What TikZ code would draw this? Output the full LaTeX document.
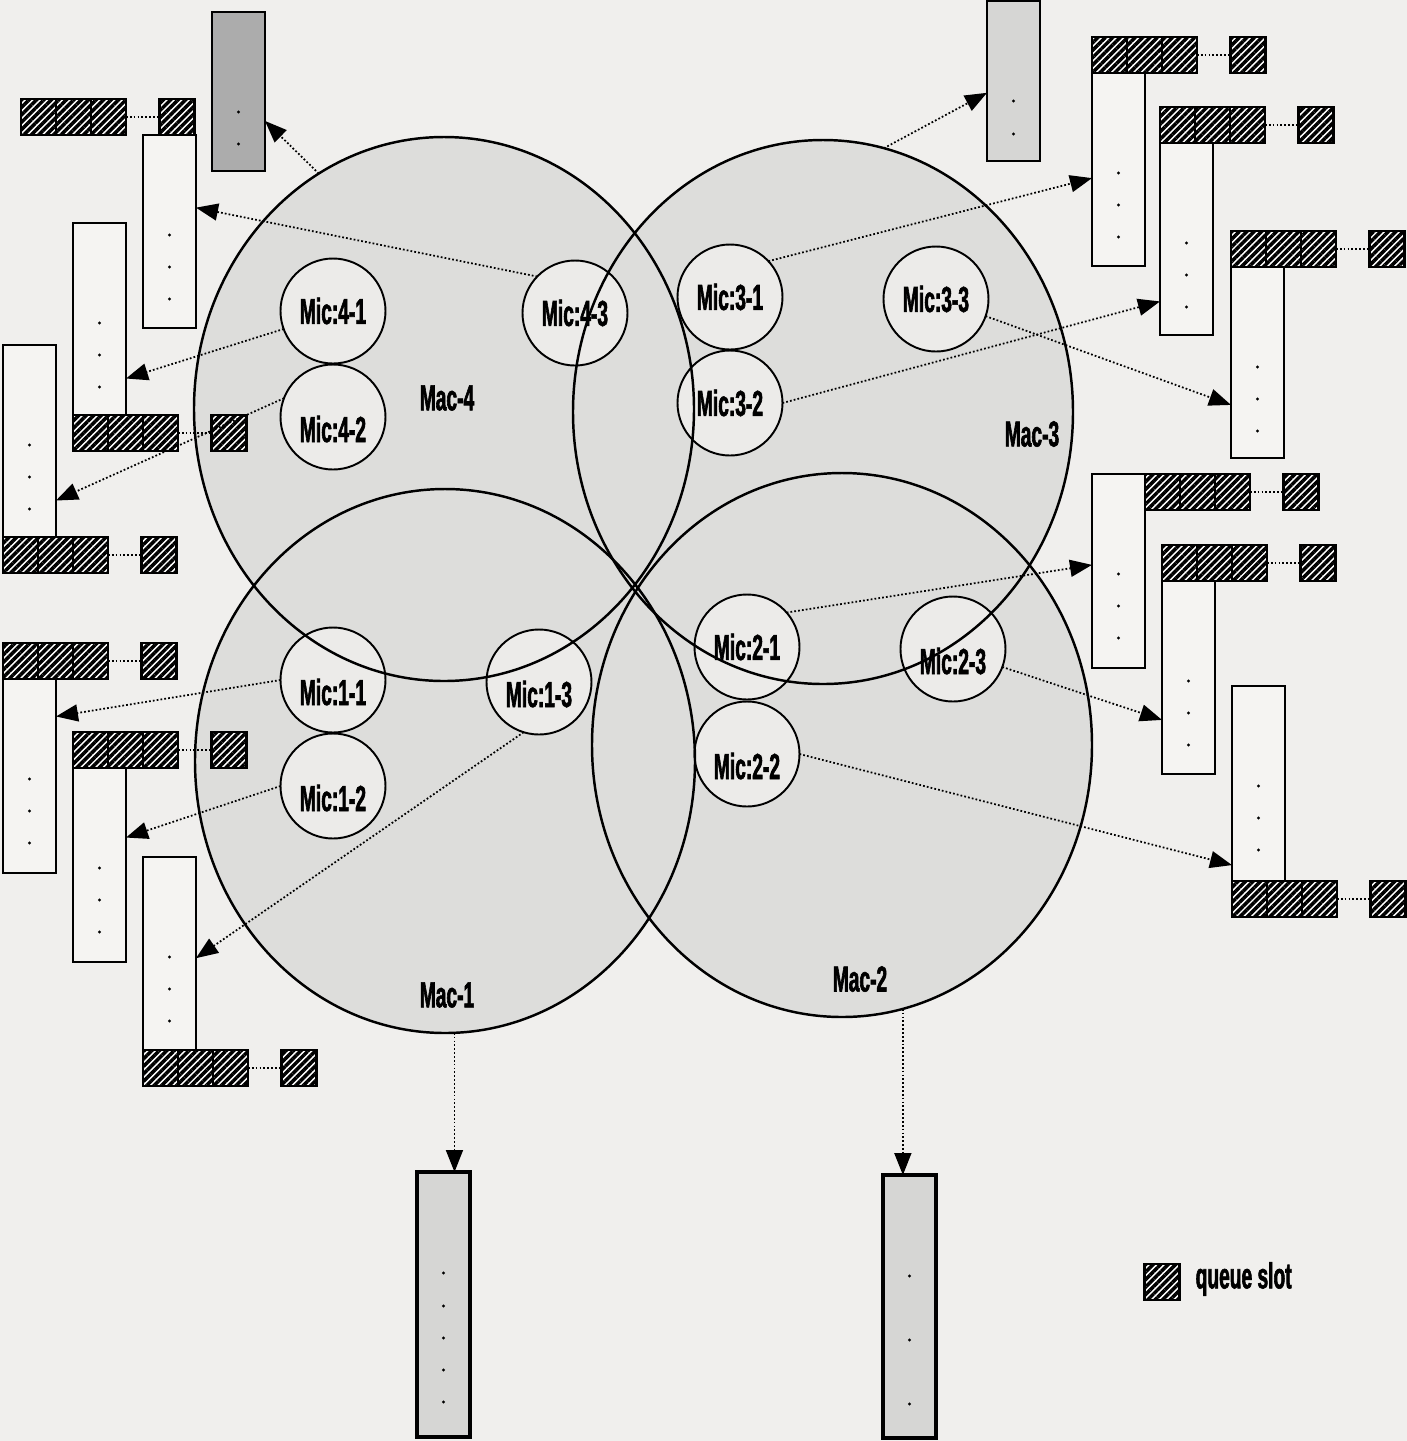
\documentclass[tikz,border=0pt]{standalone}
\usepackage{fontspec}
\newfontfamily\labfont[FakeStretch=0.53,FakeBold=1.6]{Liberation Sans}
\usetikzlibrary{shapes.geometric,arrows.meta,patterns.meta}
\definecolor{paper}{RGB}{240,239,237}
\definecolor{macgray}{RGB}{221,221,219}
\definecolor{micfill}{RGB}{236,235,233}
\definecolor{boxwhite}{RGB}{245,244,242}
\definecolor{lightbox}{RGB}{214,214,212}
\definecolor{darkbox}{RGB}{172,172,172}
\tikzset{
  labtxt/.style={font=\labfont\bfseries\fontsize{10.3pt}{12pt}\selectfont},
  mac/.style={ellipse,draw,line width=0.7pt,minimum width=50mm,minimum height=54.4mm,inner sep=0pt,outer sep=0pt},
  maclab/.style={labtxt,inner sep=0pt},
  mic/.style={circle,draw,line width=0.55pt,fill=micfill,minimum size=10.5mm,inner sep=0pt,outer sep=0pt,labtxt},
  low/.style={text height=5mm,text depth=0pt},
  wbox/.style={draw,line width=0.55pt,fill=boxwhite,minimum width=5.3mm,inner sep=0pt,outer sep=0pt},
  gbox/.style={wbox,fill=lightbox},
  dbox/.style={wbox,fill=darkbox},
  tbox/.style={wbox,fill=lightbox,line width=1.2pt},
  slot/.style={draw,line width=0.6pt,preaction={fill=white},pattern={Lines[angle=45,distance=1.5pt,line width=1pt]},pattern color=black,minimum width=3.5mm,minimum height=3.6mm,inner sep=0pt,outer sep=0pt},
  conn/.style={line width=0.5pt,dash pattern=on 0.5pt off 0.6pt},
  qarrow/.style={conn,-{Triangle[length=2.2mm,width=1.7mm]}}
}
\newcommand{\micnode}[5][]{\node[mic,#1] (#4) at (#2,#3) {#5};}
\newcommand{\qbox}[5]{\node[#4,minimum height=#3mm,anchor=north west] (#5) at (#1,#2) {};}
\newcommand{\qdots}[2]{\foreach \d in {#2} \fill ([yshift=-\d mm]#1.north) circle (1.6);}
\newcommand{\qbar}[3]{%
  \node[slot,anchor=north west] (#3a) at (#1,#2) {};
  \node[slot,anchor=west] (#3b) at (#3a.east) {};
  \node[slot,anchor=west] (#3c) at (#3b.east) {};
  \node[slot,anchor=west] (#3d) at ([xshift=3.35mm]#3c.east) {};
  \draw[conn] (#3c) -- (#3d);}
\newcommand{\qedge}[2]{\draw[qarrow] (#1) -- (#2);}

\begin{document}
\begin{tikzpicture}[x=0.1mm,y=-0.1mm]
	\fill[paper] (0,0) rectangle (1407,1441);
	\useasboundingbox (0,0) rectangle (1407,1441);
	\foreach \cx/\cy in {444/409,823/412,445/761,842/745}
		\fill[macgray] (\cx,\cy) ellipse [x radius=250,y radius=272];
	% micro cells
	\micnode{333}{311}{mic41}{Mic:4-1} \micnode[low]{333}{417}{mic42}{Mic:4-2} \micnode{575}{313}{mic43}{Mic:4-3}
	\micnode{730}{297}{mic31}{Mic:3-1} \micnode{730}{403}{mic32}{Mic:3-2} \micnode{936}{299}{mic33}{Mic:3-3}
	\micnode{747}{647}{mic21}{Mic:2-1} \micnode[low]{747}{754}{mic22}{Mic:2-2} \micnode[low]{953}{649}{mic23}{Mic:2-3}
	\micnode[low]{333}{680}{mic11}{Mic:1-1} \micnode[low]{333}{786}{mic12}{Mic:1-2} \micnode[low]{539}{682}{mic13}{Mic:1-3}
	% macro cells
	\node[mac] (mac4) at (444,409) {}; \node[mac] (mac3) at (823,412) {};
	\node[mac] (mac1) at (445,761) {}; \node[mac] (mac2) at (842,745) {};
	\node[maclab] (mac4lab) at (447,398) {Mac-4}; \node[maclab] (mac3lab) at (1032,434) {Mac-3};
	\node[maclab] (mac1lab) at (447,995) {Mac-1}; \node[maclab] (mac2lab) at (860,979) {Mac-2};
	% queues, left
	\qbox{212}{12}{15.9}{dbox}{qd4} \qdots{qd4}{10,13.2}
	\qbox{143}{135}{19.3}{wbox}{qa} \qdots{qa}{10,13.2,16.4} \qbar{21}{99}{qa}
	\qbox{73}{223}{19.2}{wbox}{qb} \qdots{qb}{10,13.2,16.4} \qbar{73}{415}{qb}
	\qbox{3}{345}{19.2}{wbox}{qc} \qdots{qc}{10,13.2,16.4} \qbar{3}{537}{qc}
	\qbox{3}{679}{19.4}{wbox}{qe} \qdots{qe}{10,13.2,16.4} \qbar{3}{643}{qe}
	\qbox{73}{768}{19.4}{wbox}{qf} \qdots{qf}{10,13.2,16.4} \qbar{73}{732}{qf}
	\qbox{143}{857}{19.3}{wbox}{qg} \qdots{qg}{10,13.2,16.4} \qbar{143}{1050}{qg}
	% queues, right
	\qbox{987}{1}{16.0}{gbox}{qd3} \qdots{qd3}{10,13.3}
	\qbox{1092}{73}{19.3}{wbox}{qh} \qdots{qh}{10,13.2,16.4} \qbar{1092}{37}{qh}
	\qbox{1160}{143}{19.2}{wbox}{qi} \qdots{qi}{10,13.2,16.4} \qbar{1160}{107}{qi}
	\qbox{1231}{267}{19.1}{wbox}{qj} \qdots{qj}{10,13.2,16.4} \qbar{1231}{231}{qj}
	\qbox{1092}{474}{19.4}{wbox}{qk} \qdots{qk}{10,13.2,16.4} \qbar{1145}{474}{qk}
	\qbox{1162}{581}{19.3}{wbox}{ql} \qdots{ql}{10,13.2,16.4} \qbar{1162}{545}{ql}
	\qbox{1232}{686}{19.5}{wbox}{qm} \qdots{qm}{10,13.2,16.4} \qbar{1232}{881}{qm}
	% queues, bottom
	\qbox{417}{1172}{26.5}{tbox}{qm1} \qdots{qm1}{10.1,13.4,16.6,19.8,23}
	\qbox{883}{1175}{26.3}{tbox}{qm2} \qdots{qm2}{10.1,16.5,22.9}
	% arrows
	\qedge{mac4.118}{qd4.-48} \qedge{mic43.136}{qa.42} \qedge{mic41.200}{qb.-66} \qedge{mic42.159}{qc.-66}
	\qedge{mic11.180}{qe.66} \qedge{mic12.180}{qf.46} \qedge{mic13.253}{qg.-10}
	\qedge{mac3.77}{qd3.204} \qedge{mic31.43}{qh.198} \qedge{mic32.0}{qi.247} \qedge{mic33.-19}{qj.238}
	\qedge{mic21.41}{qk.167} \qedge{mic23.-20}{ql.238} \qedge{mic22.0}{qm.252}
	\draw[qarrow] (mac1.-88) -- (mac1.-88 |- qm1.north);
	\draw[qarrow] (mac2.-77) -- (mac2.-77 |- qm2.north);
	% legend
	\node[slot] (key) at (1162,1282) {};
	\node[labtxt,inner sep=0pt,anchor=west] (keylab) at (1195,1279) {queue slot};
\end{tikzpicture}
\end{document}
